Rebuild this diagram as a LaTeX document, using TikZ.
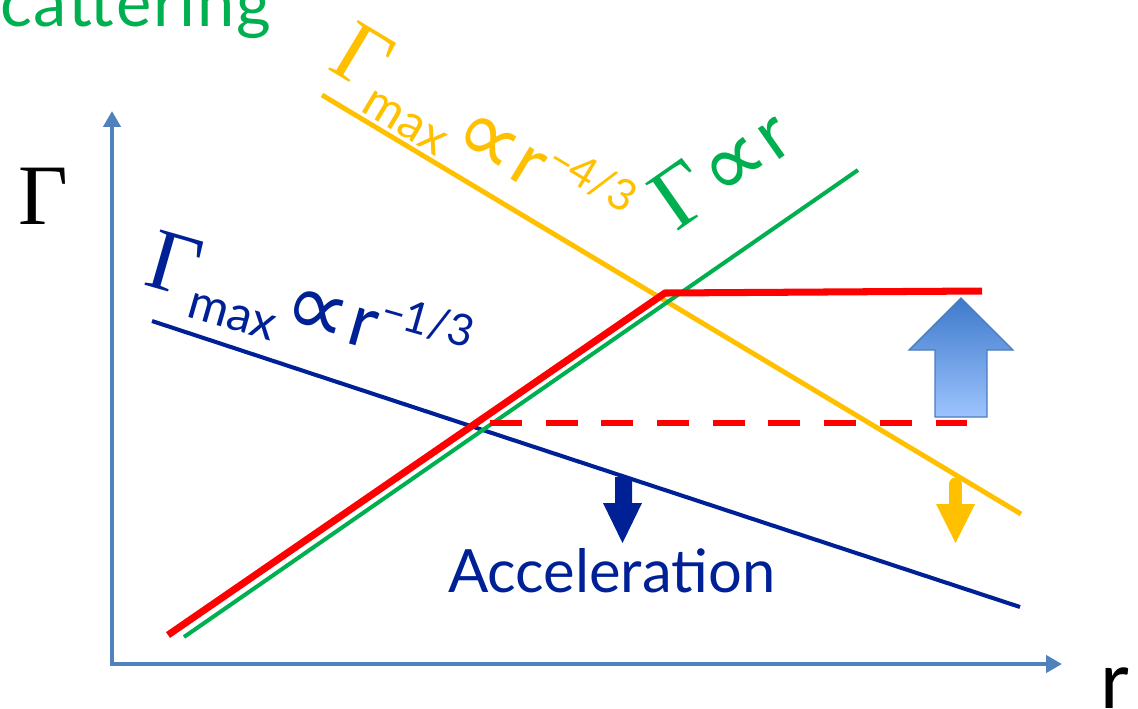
\documentclass[tikz,border=0pt]{standalone}
\usepackage{fontspec}
\setmainfont{Lato}
\newfontfamily\serifG{Liberation Serif}
\newfontfamily\symf{DejaVu Sans}
\newfontfamily\widefont[LetterSpace=3]{Lato}
\usetikzlibrary{arrows.meta}
\definecolor{ylw}{HTML}{FFC000}
\definecolor{grn}{HTML}{00B050}
\definecolor{nvy}{RGB}{0,32,150}
\definecolor{axc}{HTML}{4F81BD}
\definecolor{bluetop}{HTML}{3E7ACB}
\definecolor{bluebot}{HTML}{9DC3FE}
\definecolor{blueedge}{HTML}{4A7EBB}
\newcommand{\fs}[1]{\fontsize{#1}{#1}\selectfont}
\newcommand{\prop}{\raisebox{-3pt}{\fs{52}\symf ∝}}
\newcommand{\Gmax}[1]{{\fs{50}\serifG Γ}\raisebox{-11pt}{\fs{28}max}\kern2pt\prop\kern1pt{\fs{42}r}\raisebox{16pt}{\fs{25}–\kern-1pt#1}}
\tikzset{
  lbl/.style={inner sep=0pt, outer sep=0pt, anchor=base west},
  axisline/.style={axc, line width=2.27pt, {Triangle[length=9pt,width=9.6pt]}-{Triangle[length=9pt,width=9.6pt]}},
  yline/.style={ylw, line width=2.8pt},
  gline/.style={grn, line width=2.3pt},
  nline/.style={nvy, line width=2.3pt},
  rline/.style={red, line width=4pt},
  rdash/.style={red, line width=3.4pt, dash pattern=on 18.1pt off 13.6pt}
}
\begin{document}
\begin{tikzpicture}[x=0.02cm,y=-0.02cm]
\useasboundingbox (0,0) rectangle (1138,708);
\clip (0,0) rectangle (1138,708);
% axes
\coordinate (O) at (112,664);
\coordinate (Ytop) at (112,111);
\coordinate (Xend) at (1062,664);
\draw[axisline] (Ytop) -- (O) -- (Xend);
% lines
\coordinate (y1) at (322,95);
\coordinate (y2) at (1021,514);
\coordinate (n1) at (152,321);
\coordinate (n2) at (1020,607);
\coordinate (g1) at (184,637);
\coordinate (g2) at (858,170);
\coordinate (r1) at (168,635);
\coordinate (r2) at (665,293);
\coordinate (r3) at (982,291);
\coordinate (d1) at (490,423);
\coordinate (d2) at (972,423);
\draw[yline] (y1) -- (y2);
\draw[nline] (n1) -- (n2);
\draw[gline] (g1) -- (g2);
\draw[rline] (r1) -- (r2) -- (r3);
\draw[rdash] (d1) -- (d2);
% big blue arrow
\shade[top color=bluetop, bottom color=bluebot, draw=blueedge, line width=0.8pt]
  (961,298) -- (1013,350) -- (987,350) -- (987,417) -- (935,417) -- (935,350) -- (909,350) -- cycle;
% navy arrow
\fill[nvy] (615,477) -- (632,477) -- (632,503) -- (642,503) -- (622.5,543) -- (603,503) -- (615,503) -- cycle;
% yellow arrow
\draw[ylw, line width=7.4pt, line cap=round] (955.5,484) -- (955.5,506);
\fill[ylw] (936,504) -- (975,504) -- (955.5,543) -- cycle;
% labels
\node[lbl, text=grn] (scat) at (0,26) {\widefont\fs{38}cattering};
\node[lbl] (gax) at (18,224) {\fs{49}\serifG Γ};
\node[lbl] (rax) at (1100,708) {\fs{45}r};
\node[lbl, text=ylw, rotate=-31] (ylab) at (326,68) {\Gmax{4/3}};
\node[lbl, text=nvy, rotate=-16] (nlab) at (142,284) {\Gmax{1/3}};
\node[lbl, text=grn, rotate=35] (glab) at (676,232) {{\fs{50}\serifG Γ}\kern2pt\prop\kern1pt{\fs{42}r}};
\node[lbl, text=nvy] (acc) at (448,592) {\fs{34}Acceleration};
\end{tikzpicture}
\end{document}
